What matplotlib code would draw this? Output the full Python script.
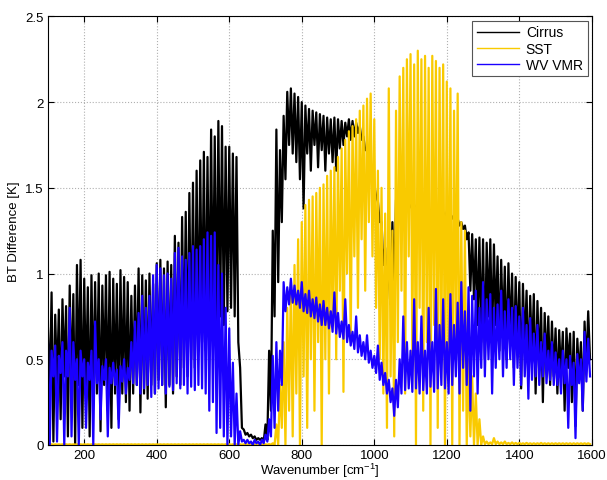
import matplotlib
matplotlib.use('Agg')
import matplotlib.pyplot as plt
import numpy as np

plt.rcParams['font.family'] = ['Liberation Sans', 'DejaVu Sans']
plt.rcParams['mathtext.default'] = 'regular'

CIRRUS_COLOR = 'black'
SST_COLOR = '#F9CA00'
WV_COLOR = '#1A00FF'

# 10 cm-1 bins from 100 to 1590, upper / lower envelope of each spectrum
wavenumber = np.arange(100, 1600, 10)

cirrus_hi = [
    0.68, 0.89, 0.76, 0.79, 0.85, 0.81, 0.93, 0.88, 1.05, 1.08,
    0.97, 0.92, 0.99, 0.95, 1.00, 0.93, 0.99, 1.01, 0.97, 0.94,
    1.02, 0.98, 0.95, 0.87, 0.93, 1.03, 0.99, 0.96, 1.00, 0.94,
    1.06, 1.08, 1.03, 1.07, 1.05, 1.22, 1.18, 1.33, 1.36, 1.47,
    1.53, 1.60, 1.66, 1.71, 1.68, 1.84, 1.80, 1.89, 1.86, 1.74,
    1.74, 1.70, 1.68, 0.45, 0.09, 0.07, 0.06, 0.05, 0.04, 0.04,
    0.12, 0.55, 1.25, 1.84, 1.72, 1.92, 2.06, 2.08, 2.05, 2.03,
    2.00, 1.98, 1.96, 1.95, 1.94, 1.93, 1.92, 1.91, 1.90, 1.91,
    1.90, 1.89, 1.88, 1.90, 1.89, 1.88, 1.86, 1.80, 1.72, 1.63,
    1.52, 1.42, 1.30, 1.15, 1.10, 1.30, 1.43, 1.43, 1.42, 1.41,
    1.41, 1.40, 1.40, 1.39, 1.39, 1.38, 1.38, 1.37, 1.37, 1.36,
    1.36, 1.35, 1.34, 1.32, 1.30, 1.28, 1.24, 1.23, 1.20, 1.21,
    1.20, 1.18, 1.20, 1.17, 1.10, 1.08, 1.04, 1.06, 1.00, 0.98,
    0.95, 0.94, 0.90, 0.87, 0.88, 0.84, 0.80, 0.77, 0.75, 0.72,
    0.68, 0.67, 0.66, 0.68, 0.65, 0.66, 0.62, 0.60, 0.72, 0.78,
]
cirrus_lo = [
    0.30, 0.02, 0.35, 0.15, 0.40, 0.05, 0.30, 0.00, 0.35, 0.10,
    0.30, 0.05, 0.25, 0.30, 0.08, 0.35, 0.20, 0.10, 0.30, 0.15,
    0.30, 0.25, 0.20, 0.30, 0.35, 0.19, 0.30, 0.27, 0.35, 0.30,
    0.38, 0.35, 0.22, 0.35, 0.30, 0.40, 0.35, 0.45, 0.40, 0.50,
    0.45, 0.55, 0.60, 0.55, 0.65, 0.70, 0.65, 0.75, 0.70, 0.78,
    0.80, 0.75, 0.60, 0.10, 0.06, 0.05, 0.04, 0.03, 0.03, 0.02,
    0.03, 0.20, 0.75, 0.95, 1.30, 1.55, 1.75, 1.70, 1.65, 1.55,
    1.38, 1.70, 1.60, 1.75, 1.62, 1.72, 1.60, 1.70, 1.65, 1.60,
    1.73, 1.75, 1.80, 1.78, 1.80, 1.82, 1.78, 1.72, 1.66, 1.56,
    1.45, 1.30, 1.05, 0.85, 0.82, 0.90, 1.30, 1.37, 1.36, 1.38,
    1.37, 1.37, 1.36, 1.36, 1.35, 1.35, 1.34, 1.34, 1.33, 1.33,
    1.32, 1.32, 1.30, 1.28, 1.26, 1.20, 0.90, 0.85, 0.70, 0.60,
    0.50, 0.75, 0.60, 0.70, 0.55, 0.65, 0.50, 0.60, 0.45, 0.55,
    0.33, 0.55, 0.40, 0.50, 0.30, 0.45, 0.25, 0.45, 0.35, 0.40,
    0.30, 0.40, 0.20, 0.45, 0.25, 0.11, 0.40, 0.20, 0.45, 0.50,
]

sst_hi = [0.004] * 60 + [
    0.004, 0.005, 0.01, 0.12, 0.35, 0.60, 0.80, 0.95, 1.05, 1.20,
    1.30, 1.40, 1.43, 1.45, 1.47, 1.50, 1.52, 1.57, 1.60, 1.62,
    1.68, 1.73, 1.78, 1.83, 1.86, 1.90, 1.95, 1.98, 2.02, 2.05,
    1.90, 1.60, 1.50, 1.35, 2.08, 1.25, 1.95, 2.15, 2.20, 2.25,
    2.28, 2.22, 2.30, 2.25, 2.27, 2.20, 2.27, 2.24, 2.20, 2.22,
    2.12, 2.08, 1.95, 2.05, 1.30, 1.25, 0.50, 0.40, 0.30, 0.15,
    0.05, 0.02, 0.015, 0.04, 0.02, 0.015, 0.02, 0.012, 0.015, 0.012,
    0.012, 0.01, 0.012, 0.01, 0.01, 0.01, 0.012, 0.01, 0.01, 0.01,
    0.01, 0.01, 0.01, 0.01, 0.01, 0.01, 0.01, 0.01, 0.01, 0.01,
]
sst_lo = [0.002] * 60 + [
    0.002, 0.002, 0.0, 0.0, 0.10, 0.0, 0.20, 0.05, 0.30, 0.0,
    0.40, 0.10, 0.50, 0.20, 0.60, 0.0, 0.50, 0.30, 0.70, 0.50,
    0.90, 0.31, 1.00, 0.60, 1.10, 0.80, 1.20, 0.90, 1.30, 1.10,
    0.80, 0.50, 0.30, 0.10, 0.40, 0.05, 0.60, 0.90, 0.30, 1.10,
    0.50, 0.0, 0.80, 0.20, 0.60, 0.0, 0.70, 0.10, 0.50, 0.0,
    0.40, 0.0, 0.60, 0.0, 0.20, 0.0, 0.05, 0.0, 0.0, 0.0,
    0.005, 0.005, 0.005, 0.005, 0.005, 0.005, 0.005, 0.005, 0.005, 0.005,
    0.005, 0.005, 0.005, 0.005, 0.005, 0.005, 0.005, 0.005, 0.005, 0.005,
    0.005, 0.005, 0.005, 0.005, 0.005, 0.005, 0.005, 0.005, 0.005, 0.005,
]

wv_hi = [
    0.60, 0.55, 0.58, 0.52, 0.60, 0.55, 0.80, 0.60, 0.50, 0.55,
    0.50, 0.48, 0.55, 0.72, 0.50, 0.46, 0.50, 0.45, 0.48, 0.44,
    0.46, 0.50, 0.45, 0.60, 0.72, 0.77, 0.87, 0.80, 0.87, 0.99,
    1.05, 1.03, 0.99, 1.00, 0.97, 1.12, 1.15, 1.10, 1.08, 1.12,
    1.16, 1.14, 1.16, 1.20, 1.24, 1.22, 1.24, 1.05, 1.00, 0.80,
    0.68, 0.48, 0.30, 0.08, 0.03, 0.03, 0.02, 0.03, 0.02, 0.03,
    0.06, 0.15, 0.52, 0.60, 0.55, 0.95, 0.92, 0.97, 0.93, 0.90,
    0.95, 0.88, 0.90, 0.85, 0.86, 0.82, 0.84, 0.80, 0.78, 0.89,
    0.77, 0.72, 0.85, 0.70, 0.66, 0.75, 0.64, 0.60, 0.64, 0.55,
    0.52, 0.58, 0.48, 0.42, 0.38, 0.33, 0.38, 0.50, 0.75, 0.60,
    0.55, 0.85, 0.60, 0.75, 0.55, 0.80, 0.60, 0.91, 0.70, 0.85,
    0.60, 0.88, 0.70, 0.83, 0.95, 0.78, 0.92, 0.87, 0.90, 0.80,
    0.95, 0.85, 0.88, 0.80, 0.82, 0.90, 0.78, 0.85, 0.80, 0.81,
    0.75, 0.80, 0.70, 0.74, 0.65, 0.70, 0.60, 0.65, 0.55, 0.60,
    0.54, 0.50, 0.55, 0.50, 0.52, 0.48, 0.53, 0.50, 0.66, 0.62,
]
wv_lo = [
    0.00, 0.40, 0.02, 0.42, 0.00, 0.40, 0.05, 0.38, 0.00, 0.40,
    0.10, 0.38, 0.00, 0.36, 0.15, 0.38, 0.05, 0.36, 0.35, 0.10,
    0.37, 0.30, 0.38, 0.36, 0.35, 0.30, 0.33, 0.35, 0.28, 0.30,
    0.33, 0.35, 0.30, 0.34, 0.32, 0.36, 0.33, 0.35, 0.30, 0.34,
    0.32, 0.35, 0.33, 0.30, 0.20, 0.25, 0.07, 0.10, 0.05, 0.00,
    0.05, 0.00, 0.00, 0.02, 0.01, 0.01, 0.00, 0.01, 0.00, 0.01,
    0.02, 0.05, 0.10, 0.20, 0.35, 0.78, 0.82, 0.83, 0.82, 0.80,
    0.78, 0.77, 0.75, 0.74, 0.72, 0.70, 0.70, 0.68, 0.66, 0.65,
    0.63, 0.62, 0.60, 0.58, 0.56, 0.54, 0.52, 0.50, 0.48, 0.45,
    0.42, 0.38, 0.35, 0.30, 0.25, 0.17, 0.22, 0.30, 0.32, 0.33,
    0.31, 0.33, 0.30, 0.32, 0.30, 0.34, 0.31, 0.33, 0.35, 0.33,
    0.30, 0.35, 0.40, 0.30, 0.45, 0.35, 0.20, 0.40, 0.30, 0.45,
    0.40, 0.50, 0.30, 0.45, 0.50, 0.40, 0.45, 0.50, 0.35, 0.45,
    0.35, 0.40, 0.27, 0.38, 0.40, 0.35, 0.40, 0.36, 0.38, 0.35,
    0.35, 0.30, 0.36, 0.10, 0.35, 0.04, 0.36, 0.20, 0.37, 0.40,
]


def spiky(hi, lo):
    # one line running through every envelope value: upper at the bin start, lower half a bin later
    x = np.column_stack([wavenumber, wavenumber + 5]).ravel()
    y = np.column_stack([hi, lo]).ravel()
    return x, y


fig = plt.figure(figsize=(6.07, 4.81), dpi=100)
ax = fig.add_axes([0.079, 0.0728, 0.896, 0.891])

for name, hi, lo, color in [('Cirrus', cirrus_hi, cirrus_lo, CIRRUS_COLOR),
                            ('SST', sst_hi, sst_lo, SST_COLOR),
                            ('WV VMR', wv_hi, wv_lo, WV_COLOR)]:
    x, y = spiky(hi, lo)
    ax.plot(x, y, color=color, lw=1.6, label=name)

ax.set_xlim(100, 1600)
ax.set_ylim(0, 2.5)
ax.set_xticks(np.arange(200, 1601, 200))
ax.set_yticks([0, 0.5, 1, 1.5, 2, 2.5])
ax.set_yticklabels(['0', '0.5', '1', '1.5', '2', '2.5'])
ax.tick_params(direction='in', top=True, right=True, labelsize=9.5, length=4, pad=3)
ax.grid(True, linestyle=':', color='#b0b0b0', linewidth=0.8)
ax.set_xlabel('Wavenumber [cm$^{-1}$]', fontsize=9.5, labelpad=0)
ax.set_ylabel('BT Difference [K]', fontsize=9.5, labelpad=4)

leg = ax.legend(loc='upper right', fontsize=10, fancybox=False, framealpha=1,
                handlelength=3.0, borderaxespad=0.3, labelspacing=0.15,
                handletextpad=0.5, borderpad=0.35)
leg.get_frame().set_edgecolor('#555555')
leg.get_frame().set_linewidth(0.8)
for line in leg.get_lines():
    line.set_linewidth(1.0)

fig.savefig('out.png', dpi=100)
